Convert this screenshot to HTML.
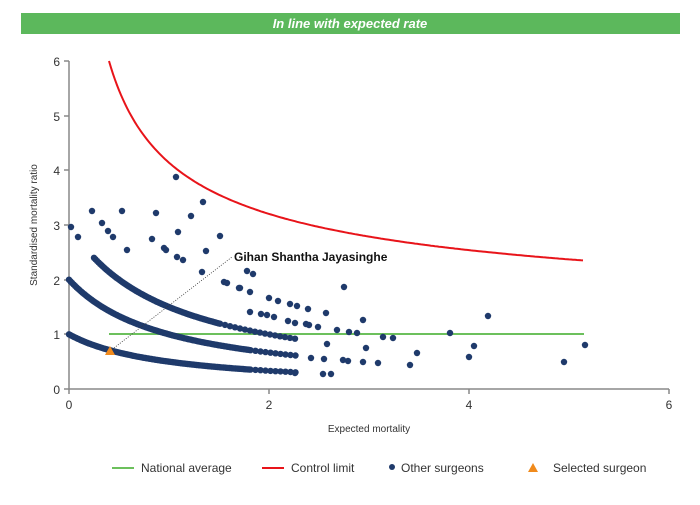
<!DOCTYPE html>
<html><head><meta charset="utf-8"><style>
body{margin:0;background:#fff;width:700px;height:500px;overflow:hidden;font-family:"Liberation Sans",Arial,sans-serif;}
</style></head><body>
<svg id="s" width="700" height="500" xmlns="http://www.w3.org/2000/svg" font-family="Liberation Sans, Arial, sans-serif">
<rect x="21" y="13" width="659" height="21" fill="#5cb85c"/>
<text x="350" y="28" text-anchor="middle" fill="#fff" font-size="13" font-weight="bold" font-style="italic">In line with expected rate</text>
<g stroke="#888" stroke-width="1.5" fill="none">
<path d="M69,61 V389 H669"/>
<path d="M64,61H69M64,116H69M64,170H69M64,225H69M64,280H69M64,334H69M64,389H69"/>
<path d="M69,389V394M269,389V394M469,389V394M669,389V394"/>
</g>
<g font-size="12" fill="#333" text-anchor="end">
<text x="60" y="66">6</text><text x="60" y="121">5</text><text x="60" y="175">4</text><text x="60" y="230">3</text><text x="60" y="285">2</text><text x="60" y="339">1</text><text x="60" y="394">0</text>
</g>
<g font-size="12" fill="#333" text-anchor="middle">
<text x="69" y="409">0</text><text x="269" y="409">2</text><text x="469" y="409">4</text><text x="669" y="409">6</text>
</g>
<text x="369" y="432" font-size="10" fill="#333" text-anchor="middle">Expected mortality</text>
<text transform="translate(37,225) rotate(-90)" font-size="10" fill="#333" text-anchor="middle">Standardised mortality ratio</text>
<line x1="109" y1="334" x2="584" y2="334" stroke="#6cc05c" stroke-width="2"/>
<path id="cl" fill="none" stroke="#e8141a" stroke-width="2"/>
<g id="pts" fill="#1f3a6b"></g>
<line x1="110" y1="351" x2="232" y2="257" stroke="#333" stroke-width="0.8" stroke-dasharray="1,1.5"/>
<polygon points="110,346 115,355 105,355" fill="#f08a1c"/>
<text x="234" y="261" font-size="12" font-weight="bold" fill="#111">Gihan Shantha Jayasinghe</text>
<g font-size="12" fill="#333">
<line x1="112" y1="468" x2="134" y2="468" stroke="#6cc05c" stroke-width="2"/><text x="141" y="472">National average</text>
<line x1="262" y1="468" x2="284" y2="468" stroke="#e8141a" stroke-width="2"/><text x="291" y="472">Control limit</text>
<circle cx="392" cy="467" r="3" fill="#1f3a6b"/><text x="401" y="472">Other surgeons</text>
<polygon points="533,463 538,472 528,472" fill="#f08a1c"/><text x="553" y="472">Selected surgeon</text>
</g>
</svg>
<script>
var X=function(x){return 69+100*x},Y=function(y){return 389-54.67*y};
var d="";for(var x=0.4;x<=5.151;x+=0.02){var y=0.94+3.2/Math.sqrt(x);d+=(d?"L":"M")+X(x).toFixed(1)+","+Y(y).toFixed(1);}
document.getElementById("cl").setAttribute("d",d);
var g=document.getElementById("pts"),h="";
function c(px,py){h+='<circle cx="'+px.toFixed(1)+'" cy="'+py.toFixed(1)+'" r="3.2"/>';}
for(var k=1;k<=3;k++){var s=k==3?0.25:0;for(var x=s;x<=2.28;x+=(x<(k==3?1.5:1.8)?0.015:0.05))c(X(x),Y(k/(x+1)));}
var p=[[176,177],[203,202],[92,211],[122,211],[156,213],[191,216],[71,227],[102,223],[108,231],[113,237],[78,237],[178,232],[152,239],[220,236],[127,250],[164,248],[166,250],[177,257],[183,260],[206,251],[202,272],[247,271],[253,274],[224,282],[227,283],[239,288],[250,292],[269,298],[278,301],[290,304],[297,306],[250,312],[261,314],[267,315],[274,317],[288,321],[295,323],[240,288],[308,309],[344,287],[326,313],[306,324],[309,325],[318,327],[363,320],[337,330],[349,332],[357,333],[383,337],[393,338],[450,333],[488,316],[327,344],[366,348],[474,346],[469,357],[585,345],[311,358],[324,359],[343,360],[348,361],[363,362],[378,363],[417,353],[410,365],[564,362],[295,373],[323,374],[331,374]];
p.forEach(function(q){c(q[0],q[1]);});g.innerHTML=h;
</script>
</body></html>
